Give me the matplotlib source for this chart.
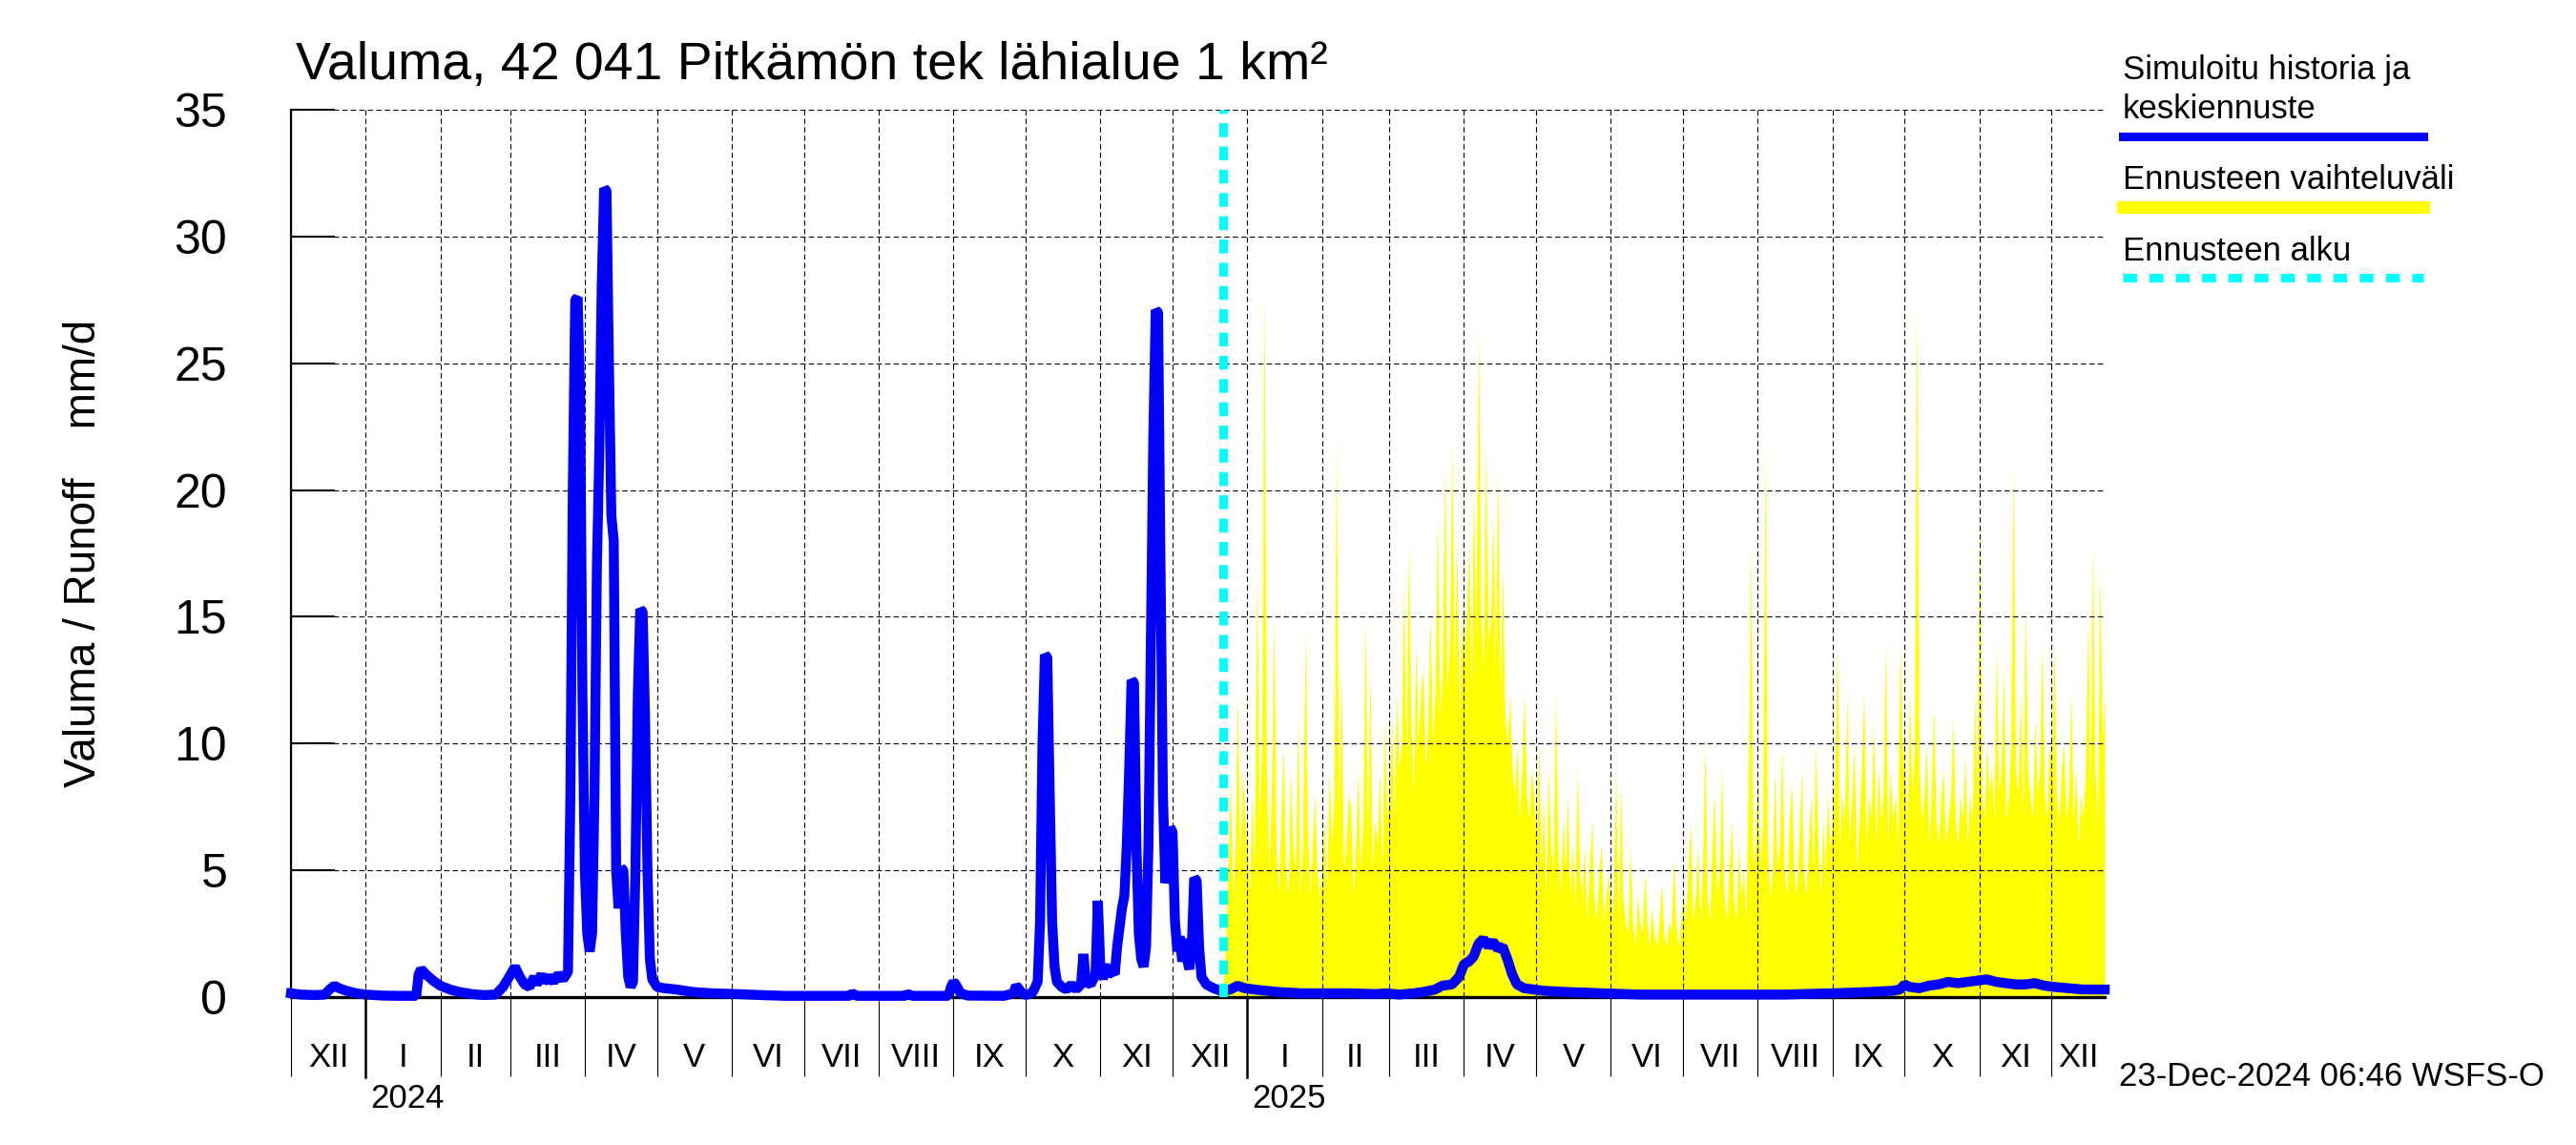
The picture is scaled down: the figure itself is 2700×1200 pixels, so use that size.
import numpy as np
import pandas as pd
import matplotlib
matplotlib.use('Agg')
import matplotlib.pyplot as plt
from matplotlib.lines import Line2D

plt.rcParams['font.family'] = ['Liberation Sans', 'DejaVu Sans']

# ---------------- data ----------------
axis_start = np.datetime64('2023-12-01')
axis_end = np.datetime64('2025-12-23')
forecast_start = np.datetime64('2024-12-22')

# simulated history: day offset from axis_start, runoff mm/d
hist_day = [0, 4, 10, 14, 16, 18, 20, 23, 27, 31, 38, 45, 52, 53, 54, 56, 59, 62, 66, 70,
            75, 80, 85, 88, 90, 93, 95, 97, 99, 101, 102, 104, 105, 107, 109, 111, 113, 115, 116, 117,
            118, 119, 120, 121, 122, 123, 124, 125, 126, 127, 128, 129, 130, 131, 132, 133, 134, 135, 136, 137,
            138, 139, 140, 141, 142, 143, 144, 145, 146, 147, 148, 149, 150, 152, 155, 160, 167, 175, 185, 195,
            205, 225, 232, 233, 235, 255, 256, 258, 273, 274, 275, 276, 278, 281, 296, 300, 301, 302, 304, 306,
            308, 309, 310, 311, 312, 313, 314, 315, 316, 317, 318, 320, 322, 324, 326, 328, 329, 330, 332, 334,
            335, 336, 337, 338, 339, 340, 342, 343, 345, 346, 347, 348, 349, 350, 351, 352, 353, 354, 355, 356,
            357, 358, 359, 360, 361, 362, 363, 364, 365, 366, 367, 368, 369, 370, 371, 372, 373, 374, 375, 376,
            377, 378, 380, 383, 386, 387]
hist_val = [0.15, 0.1, 0.08, 0.1, 0.3, 0.45, 0.35, 0.25, 0.15, 0.1, 0.06, 0.05, 0.05, 0.9, 1.1, 0.9, 0.65, 0.45, 0.3, 0.2,
            0.12, 0.08, 0.1, 0.4, 0.7, 1.2, 0.8, 0.5, 0.4, 0.8, 0.5, 0.9, 0.6, 0.8, 0.6, 0.9, 0.7, 1.0, 8.0, 20.0,
            27.5, 27.6, 24.0, 12.0, 5.0, 2.5, 1.8, 2.5, 8.0, 17.0, 21.5, 28.0, 31.9, 31.8, 25.0, 19.0, 18.0, 5.0, 3.5, 5.1,
            5.0, 2.5, 0.8, 0.4, 0.6, 5.0, 12.0, 15.3, 15.2, 11.0, 5.0, 1.5, 0.7, 0.4, 0.35, 0.3, 0.2, 0.15, 0.12, 0.08,
            0.05, 0.05, 0.05, 0.15, 0.05, 0.05, 0.12, 0.05, 0.05, 0.4, 0.6, 0.5, 0.15, 0.06, 0.05, 0.15, 0.45, 0.35, 0.1, 0.1,
            0.2, 0.4, 0.6, 3.0, 10.0, 13.5, 13.4, 8.0, 3.0, 1.2, 0.6, 0.4, 0.3, 0.5, 0.3, 0.5, 1.7, 0.6, 0.5, 0.9,
            3.8, 1.2, 0.7, 1.3, 0.8, 1.1, 0.9, 2.0, 3.5, 4.0, 6.0, 9.0, 12.5, 12.4, 6.0, 2.5, 1.5, 1.2, 2.0, 6.0,
            14.0, 22.0, 27.1, 27.0, 17.0, 8.0, 4.5, 5.0, 6.7, 6.5, 3.0, 1.8, 2.4, 1.4, 2.3, 1.5, 1.1, 2.0, 4.7, 4.6,
            2.0, 0.8, 0.5, 0.35, 0.25, 0.25]

# mean forecast: day offset from axis_start, runoff mm/d
fc_mean_day = [387, 390, 393, 396, 400, 405, 410, 420, 430, 440, 450, 455, 460, 466, 470, 475, 478, 482, 485, 487,
               489, 491, 493, 495, 497, 499, 501, 503, 505, 507, 509, 512, 516, 520, 530, 545, 560, 580, 600, 620,
               640, 655, 665, 668, 670, 672, 676, 680, 684, 688, 692, 696, 700, 704, 708, 712, 716, 720, 724, 728,
               732, 738, 744, 748, 753]
fc_mean_val = [0.25, 0.3, 0.45, 0.35, 0.3, 0.25, 0.2, 0.15, 0.15, 0.15, 0.12, 0.15, 0.1, 0.15, 0.2, 0.3, 0.45, 0.5, 0.8, 1.3,
               1.4, 1.6, 2.1, 2.3, 2.0, 2.2, 1.9, 2.0, 1.5, 0.9, 0.5, 0.35, 0.3, 0.25, 0.2, 0.15, 0.1, 0.1, 0.1, 0.1,
               0.15, 0.2, 0.25, 0.3, 0.5, 0.4, 0.35, 0.45, 0.5, 0.6, 0.55, 0.6, 0.65, 0.7, 0.6, 0.55, 0.5, 0.5, 0.55, 0.45,
               0.4, 0.35, 0.3, 0.3, 0.3]

# upper edge of forecast range, daily from forecast_start (2024-12-22)
fc_max_dec24 = [0.3, 2, 5, 8.7, 4, 6, 12, 5, 9, 7]
fc_max_jan = [6, 4, 8, 5, 17, 7, 10, 28, 9, 5, 8, 15, 6, 4, 7, 10, 5, 4, 9, 6, 5, 11, 4, 6, 14.5, 7, 4, 6, 8, 5, 4]
fc_max_feb = [5, 7, 4, 9, 6, 8, 22, 7, 13, 5, 6, 8, 7.5, 4, 6, 9, 5, 7, 15, 6, 13, 5, 7, 6, 9, 5, 11, 7]
fc_max_mar = [8, 11, 7, 12, 9, 10, 16.5, 9, 18, 11, 8, 14, 10, 12, 13, 9, 11, 15, 10, 12, 19, 11, 13, 21, 12, 14, 22, 13, 18, 11, 15]
fc_max_apr = [13, 15, 18, 12, 20, 14, 26.5, 15, 13, 22, 14, 15, 19, 13, 21, 12, 17, 11, 10, 12, 9, 8, 10, 7, 9, 12, 8, 7, 9, 8]
fc_max_may = [6, 10, 5, 8, 4, 9, 6, 5, 12, 6, 4, 7, 5, 8, 4, 6, 3.5, 9, 5, 4, 6, 3, 5, 7, 4, 3, 5, 6, 3, 4, 5]
fc_max_jun = [3, 4, 9, 3, 8.5, 4, 3, 2.5, 6, 3, 2, 4, 3, 2.5, 5, 3, 2, 3.5, 2.5, 2, 3, 4.5, 2.5, 2, 3, 2.5, 5.5, 3, 2, 3]
fc_max_jul = [4, 3, 5, 7, 3, 4, 6, 3, 5, 10, 4, 3, 6, 8, 4, 5, 9, 4, 3, 5, 7, 4, 3, 6, 4, 5, 3, 8, 18, 5, 6]
fc_max_aug = [9, 5, 7, 22, 6, 4, 5, 9, 5, 6, 10, 5, 4, 7, 8.5, 5, 4, 6, 9, 5, 4, 6, 8, 5, 10, 6, 4, 7, 5, 8, 6]
fc_max_sep = [7, 9, 14, 6, 8, 7, 12, 6, 8, 10, 5, 7, 9, 12, 6, 8, 7, 11, 6, 9, 7, 8, 14, 6, 9, 7, 8, 6, 14, 10]
fc_max_oct = [9, 7, 12, 8, 10, 27.5, 9, 7, 8, 10, 6, 8, 11.5, 7, 6, 8, 9, 6, 7, 8, 11, 7, 6, 8, 7, 9.5, 6, 8, 7, 12, 8]
fc_max_nov = [19.5, 8, 7, 10, 8, 9, 7, 14, 8, 9, 13, 7, 8, 10, 21, 9, 8, 12, 7, 15.5, 9, 8, 7, 11, 8, 9, 14, 8, 7, 10]
fc_max_dec25 = [9, 14, 8, 7, 9, 10, 7, 8, 12, 7, 9, 6, 8, 7, 9, 15, 8, 18, 9, 7, 17, 10, 12]

month_labels = ['XII', 'I', 'II', 'III', 'IV', 'V', 'VI', 'VII', 'VIII', 'IX', 'X', 'XI', 'XII',
                'I', 'II', 'III', 'IV', 'V', 'VI', 'VII', 'VIII', 'IX', 'X', 'XI', 'XII']
year_labels = ['2024', '2025']
y_ticks = [0, 5, 10, 15, 20, 25, 30, 35]

title = 'Valuma, 42 041 Pitkämön tek lähialue 1 km²'
ylabel = 'Valuma / Runoff    mm/d'
stamp = '23-Dec-2024 06:46 WSFS-O'
legend_texts = ['Simuloitu historia ja', 'keskiennuste', 'Ennusteen vaihteluväli', 'Ennusteen alku']

# ---------------- figure ----------------
W, H = 2700, 1200
fig = plt.figure(figsize=(27, 12), dpi=100)
ax = fig.add_axes([305 / W, 1 - 1045 / H, (2206 - 305) / W, (1045 - 115) / H])

td = lambda d: np.array(d, dtype='timedelta64[D]')
fc_max_val = (fc_max_dec24 + fc_max_jan + fc_max_feb + fc_max_mar + fc_max_apr + fc_max_may +
              fc_max_jun + fc_max_jul + fc_max_aug + fc_max_sep + fc_max_oct + fc_max_nov + fc_max_dec25)
hist_x = axis_start + td(hist_day)
mean_x = axis_start + td(fc_mean_day)
max_x = forecast_start + td(np.arange(len(fc_max_val)))

ax.fill_between(max_x, 0, fc_max_val, color='#ffff00', linewidth=0, zorder=1)
ax.plot(mean_x, fc_mean_val, color='#0000ff', lw=7.5, zorder=3, clip_on=False,
        solid_joinstyle='bevel')
ax.plot(hist_x, hist_val, color='#0000ff', lw=7.5, zorder=3, clip_on=False,
        solid_joinstyle='bevel')
ax.axvline(forecast_start, color='#00ffff', lw=6.5, dashes=(1.6, 1.1), zorder=4)

ax.set_xlim(axis_start, axis_end)
ax.set_ylim(0, 35)

# month ticks
month_starts = pd.date_range('2023-12-01', '2025-12-01', freq='MS')
bounds = list(month_starts) + [pd.Timestamp(axis_end)]
mids = [bounds[i] + (bounds[i + 1] - bounds[i]) / 2 for i in range(len(month_starts))]
ax.set_xticks(month_starts)
ax.set_xticklabels([])
ax.set_xticks(mids, minor=True)
ax.set_xticklabels(month_labels, minor=True)
ax.tick_params(axis='x', which='major', direction='out', length=60, width=0.8, color='black')
ax.tick_params(axis='x', which='minor', length=0, labelsize=25, pad=34)

for d in month_starts:
    if d.month == 1:
        ax.plot([d, d], [0, -0.09], transform=ax.get_xaxis_transform(), color='black',
                lw=1.8, clip_on=False, zorder=5)
        ax.text(d + pd.Timedelta(days=2), -0.114, year_labels[d.year - 2024],
                transform=ax.get_xaxis_transform(), fontsize=25, ha='left', va='center')

ax.set_yticks(y_ticks)
ax.set_yticklabels([str(v) for v in y_ticks])
ax.tick_params(axis='y', direction='in', length=33, width=1.5, labelsize=36, pad=48)

ax.grid(True, which='major', color='black', linestyle=(0, (5, 3)), linewidth=0.8)
ax.set_axisbelow(False)
for s in ['top', 'right']:
    ax.spines[s].set_visible(False)
ax.spines['left'].set_linewidth(1.6)
ax.spines['bottom'].set_linewidth(2.4)
ax.spines['bottom'].set_zorder(2.6)

# texts
fig.text(310 / W, 1 - 69 / H, title, fontsize=40, ha='left', va='center')
fig.text(88 / W, 1 - 580 / H, ylabel, fontsize=33, rotation=90, ha='center', va='center')
fig.text(2221 / W, 1 - 1128 / H, stamp, fontsize=25, ha='left', va='center')

# legend
lx0, lx1 = 2225 / W, 2540 / W
fig.text(lx0, 1 - 74 / H, legend_texts[0], fontsize=25, ha='left', va='center')
fig.text(lx0, 1 - 115 / H, legend_texts[1], fontsize=25, ha='left', va='center')
fig.add_artist(Line2D([lx0, lx1], [1 - 143 / H] * 2, color='#0000ff', lw=6.5))
fig.text(lx0, 1 - 188 / H, legend_texts[2], fontsize=25, ha='left', va='center')
fig.add_artist(Line2D([lx0, lx1], [1 - 217 / H] * 2, color='#ffff00', lw=9.5))
fig.text(lx0, 1 - 263 / H, legend_texts[3], fontsize=25, ha='left', va='center')
fig.add_artist(Line2D([lx0, lx1], [1 - 291 / H] * 2, color='#00ffff', lw=6.5,
                      dashes=(1.6, 1.45)))

fig.savefig('out.png', dpi=100)
